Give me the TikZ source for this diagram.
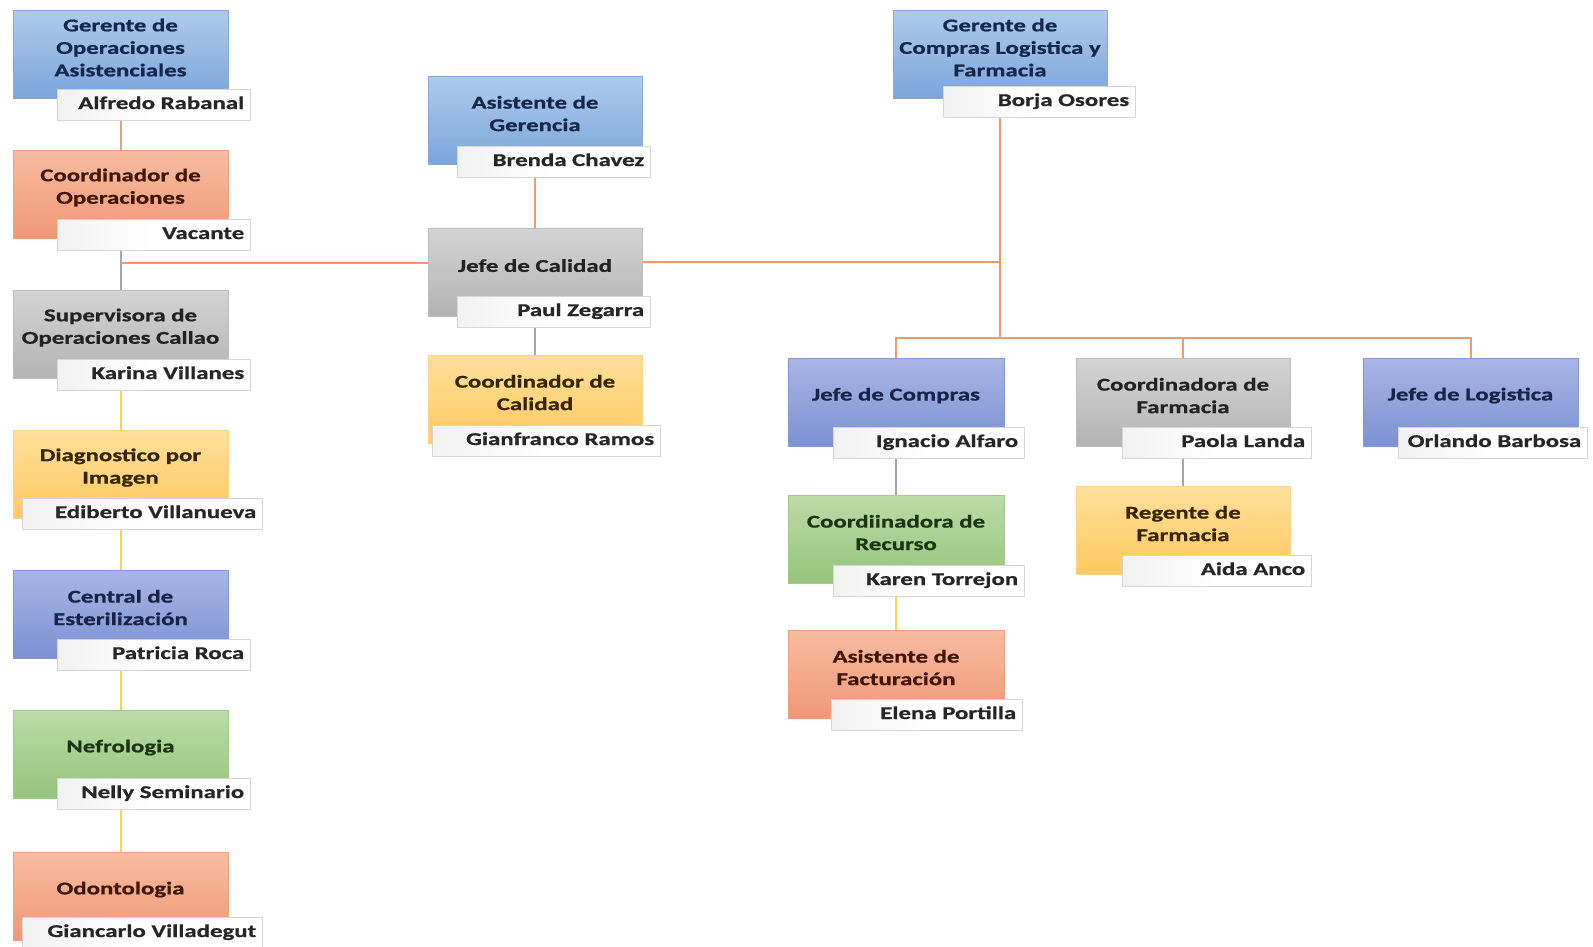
\documentclass[tikz,border=0pt]{standalone}
\usepackage{fontspec}
\setmainfont{Carlito}[FakeStretch=1.38, BoldFeatures={FakeBold=0.8}]
\usetikzlibrary{fit,backgrounds,calc}
\definecolor{cOrange}{HTML}{EE9A6A}
\definecolor{cGrey}{HTML}{A6A6A6}
\definecolor{cYellow}{HTML}{FFD24D}
\definecolor{cSalmon}{HTML}{E2A07F}
\tikzset{
  box/.style={inner sep=0pt, line width=0.8pt},
  sky/.style={top color=sky1, bottom color=sky2, draw=sky3},
  peri/.style={top color=peri1, bottom color=peri2, draw=peri3},
  salmon/.style={top color=sal1, bottom color=sal2, draw=sal3},
  grey/.style={top color=gry1, bottom color=gry2, draw=gry3},
  yellow/.style={top color=yel1, bottom color=yel2, draw=yel3},
  green/.style={top color=grn1, bottom color=grn2, draw=grn3},
  sky-text/.style={text=skyT}, peri-text/.style={text=periT},
  salmon-text/.style={text=salT}, grey-text/.style={text=gryT},
  yellow-text/.style={text=yelT}, green-text/.style={text=grnT},
  titletext/.style={align=center, inner sep=0pt, font=\bfseries\fontsize{18}{22.5}\selectfont},
  pbox/.style={inner sep=0pt, left color=pbl, right color=white, middle color=white, draw=pbd, line width=0.8pt},
  ptext/.style={inner sep=0pt, text height=12.5pt, text depth=3.5pt, text=black!85, font=\bfseries\fontsize{18}{22.5}\selectfont},
  link/.style={line width=2pt},
}
\definecolor{sky1}{HTML}{AECBEE}\definecolor{sky2}{HTML}{7DA5DA}\definecolor{sky3}{HTML}{86A8D6}\definecolor{skyT}{HTML}{13284D}
\definecolor{peri1}{HTML}{A9B6E6}\definecolor{peri2}{HTML}{7C91D3}\definecolor{peri3}{HTML}{8597D2}\definecolor{periT}{HTML}{172348}
\definecolor{sal1}{HTML}{F8BCA1}\definecolor{sal2}{HTML}{F09874}\definecolor{sal3}{HTML}{EAA284}\definecolor{salT}{HTML}{3F1607}
\definecolor{gry1}{HTML}{D4D4D4}\definecolor{gry2}{HTML}{B3B3B3}\definecolor{gry3}{HTML}{BDBDBD}\definecolor{gryT}{HTML}{222222}
\definecolor{yel1}{HTML}{FFE09C}\definecolor{yel2}{HTML}{FFC95F}\definecolor{yel3}{HTML}{F8D28A}\definecolor{yelT}{HTML}{352600}
\definecolor{grn1}{HTML}{BCDCA8}\definecolor{grn2}{HTML}{95C47B}\definecolor{grn3}{HTML}{A2C88E}\definecolor{grnT}{HTML}{1A3510}
\definecolor{pbl}{HTML}{F2F2F2}\definecolor{pbd}{HTML}{D6D6D6}
\newcommand\mainbox[6]{%
  \node[box,#2,fit={(#3,#4)(#5,#4+88)}] (#1) {};
  \node[titletext,#2-text] (#1-t) at ($(#1.north)+(0,38)$) {#6};
}
\newcommand\namebox[5]{%
  \node[pbox,fit={(#2,#3)(#4,#3+31)}] (#1) {};
  \node[ptext,anchor=east] (#1-t) at ($(#1.east)+(-6,0)$) {#5};
}
\begin{document}
\begin{tikzpicture}[x=1pt,y=-1pt]
\useasboundingbox (0,0) rectangle (1593,946);
% left column
\mainbox{gop}{sky}{13}{10}{228}{Gerente de\\Operaciones\\Asistenciales}
\namebox{gopn}{57}{89}{250}{Alfredo Rabanal}
\mainbox{cop}{salmon}{13}{150}{228}{Coordinador de\\Operaciones}
\namebox{copn}{57}{219}{250}{Vacante}
\mainbox{sup}{grey}{13}{290}{228}{Supervisora de\\Operaciones Callao}
\namebox{supn}{57}{359}{250}{Karina Villanes}
\mainbox{dia}{yellow}{13}{430}{228}{Diagnostico por\\Imagen}
\namebox{dian}{22}{498}{262}{Ediberto Villanueva}
\mainbox{cen}{peri}{13}{570}{228}{Central de\\Esterilización}
\namebox{cenn}{57}{639}{250}{Patricia Roca}
\mainbox{nef}{green}{13}{710}{228}{Nefrologia}
\namebox{nefn}{57}{778}{250}{Nelly Seminario}
\mainbox{odo}{salmon}{13}{852}{228}{Odontologia}
\namebox{odon}{22}{917}{262}{Giancarlo Villadegut}
% middle column
\mainbox{agen}{sky}{428}{76}{642}{Asistente de\\Gerencia}
\namebox{agenn}{457}{146}{650}{Brenda Chavez}
\mainbox{jdc}{grey}{428}{228}{642}{Jefe de Calidad}
\namebox{jdcn}{457}{296}{650}{Paul Zegarra}
\mainbox{cca}{yellow}{428}{355}{642}{Coordinador de\\Calidad}
\namebox{ccan}{432}{425}{660}{Gianfranco Ramos}
% right part
\mainbox{gcl}{sky}{893}{10}{1107}{Gerente de\\Compras Logistica y\\Farmacia}
\namebox{gcln}{943}{86}{1135}{Borja Osores}
\mainbox{jco}{peri}{788}{358}{1004}{Jefe de Compras}
\namebox{jcon}{833}{427}{1024}{Ignacio Alfaro}
\mainbox{cfa}{grey}{1076}{358}{1290}{Coordinadora de\\Farmacia}
\namebox{cfan}{1122}{427}{1311}{Paola Landa}
\mainbox{jlo}{peri}{1363}{358}{1578}{Jefe de Logistica}
\namebox{jlon}{1398}{427}{1587}{Orlando Barbosa}
\mainbox{rec}{green}{788}{495}{1004}{Coordiinadora de\\Recurso}
\namebox{recn}{833}{565}{1024}{Karen Torrejon}
\mainbox{fac}{salmon}{788}{630}{1004}{Asistente de\\Facturación}
\namebox{facn}{831}{699}{1022}{Elena Portilla}
\mainbox{reg}{yellow}{1076}{486}{1290}{Regente de\\Farmacia}
\namebox{regn}{1122}{555}{1311}{Aida Anco}
\coordinate (bus) at (1000,338);
\coordinate (lmid) at (0,263);
\coordinate (rmid) at (0,262);
\begin{scope}[on background layer]
  \fill[white] (0,0) rectangle (1593,946);
  % left column
  \draw[link,cSalmon] (gopn.south -| gop.south) -- (cop.north);
  \draw[link,cGrey] (copn.south -| cop.south) -- (sup.north);
  \draw[link,cOrange] (cop.south |- lmid) -- (jdc.west |- lmid);
  \draw[link,cYellow] (supn.south -| sup.south) -- (dia.north);
  \draw[link,cYellow] (dian.south -| dia.south) -- (cen.north);
  \draw[link,cYellow] (cenn.south -| cen.south) -- (nef.north);
  \draw[link,cYellow] (nefn.south -| nef.south) -- (odo.north);
  % middle
  \draw[link,cOrange] (agenn.south -| agen.south) -- (jdc.north);
  \draw[link,cGrey] (jdcn.south -| jdc.south) -- (cca.north);
  \draw[link,cOrange] (jdc.east |- rmid) -- (gcl.south |- rmid);
  % right
  \draw[link,cOrange] (gcln.south -| gcl.south) -- (bus);
  \draw[link,cOrange] (jco.north) -- (jco.north |- bus) -- (jlo.north |- bus) -- (jlo.north);
  \draw[link,cOrange] (cfa.north |- bus) -- (cfa.north);
  \draw[link,cGrey] (jcon.south -| jco.south) -- (rec.north);
  \draw[link,cYellow] (recn.south -| rec.south) -- (fac.north);
  \draw[link,cGrey] (cfan.south -| cfa.south) -- (reg.north);
\end{scope}
\end{tikzpicture}
\end{document}
